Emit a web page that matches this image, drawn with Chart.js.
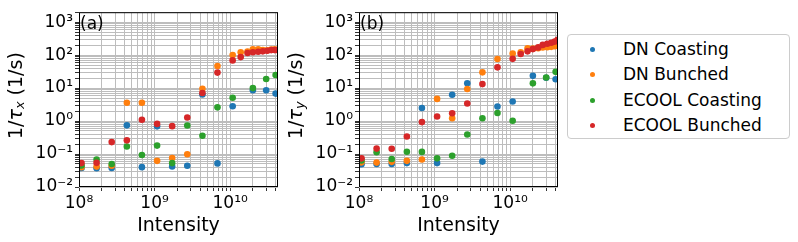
<!DOCTYPE html>
<html>
<head>
<meta charset="utf-8">
<script src="https://cdn.jsdelivr.net/npm/chart.js@4.4.1/dist/chart.umd.min.js"></script>
<style>
    html, body { margin: 0; padding: 0; background: #fff; }
    body { width: 798px; height: 242px; position: relative; overflow: hidden; font-family: "DejaVu Sans", sans-serif; }
    canvas { position: absolute; top: 0; }
    #legend { position: absolute; left: 567px; top: 34px; width: 221px; height: 103px; border: 1px solid #cccccc; border-radius: 4px; background: #fff; }
    .item { position: absolute; left: 0; width: 221px; height: 20px; line-height: 20px; font-size: 17px; color: #000; white-space: nowrap; }
    .item .dot { position: absolute; left: 22px; top: 8px; width: 5px; height: 5px; border-radius: 50%; }
    .item .txt { position: absolute; left: 55px; top: 0; }
</style>
</head>
<body>
<canvas id="chartX" width="285" height="242" style="left:0"></canvas>
<canvas id="chartY" width="285" height="242" style="left:280px"></canvas>
<div id="legend"></div>
<script>
// intensities
const intensityCoasting = [1.08e8, 1.71e8, 2.71e8, 4.3e8, 6.8e8, 1.08e9, 1.71e9, 2.71e9, 4.3e9, 6.8e9, 1.08e10, 2.0e10, 3.0e10, 4.0e10];
const intensityBunched = [1.08e8, 1.71e8, 2.71e8, 4.3e8, 6.8e8, 1.08e9, 1.71e9, 2.71e9, 4.3e9, 6.8e9, 1.08e10,
    1.38e10, 1.7e10, 2.0e10, 2.35e10, 2.7e10, 3.1e10, 3.5e10, 3.9e10, 4.25e10];

// (a) horizontal rates 1/tau_x
const dnCoastingX = [0.0375, 0.037, 0.038, 0.74, 0.040, 0.69, 0.042, 0.044, 6.4, 0.052, 2.8, 8.6, 8.6, 6.8];
const dnBunchedX = [0.040, 0.0415, 0.044, 3.6, 3.6, 0.062, 0.076, 0.098, 9.5, 46.5, 101,
    122, 129, 149, 149, 142, 141, 147, 149, 142];
const ecoolCoastingX = [0.045, 0.068, 0.050, 0.17, 0.093, 0.18, 0.053, 0.73, 0.36, 2.6, 5.1, 10, 18.9, 24.8];
const ecoolBunchedX = [0.053, 0.054, 0.23, 0.26, 1.09, 0.82, 0.70, 1.28, 7.1, 29.5, 69,
    87, 116, 122, 127, 130, 136, 142, 142, 142];

// (b) vertical rates 1/tau_y
const dnCoastingY = [0.049, 0.050, 0.050, 0.053, 2.5, 0.053, 6.3, 14, 0.059, 2.77, 3.9, 23.5, 20.5, 18.5];
const dnBunchedY = [0.056, 0.055, 0.058, 0.062, 0.068, 4.7, 1.22, 9.4, 30, 76, 112,
    122, 161, 158, 162, 171, 174, 178, 186, 193];
const ecoolCoastingY = [0.064, 0.114, 0.071, 0.117, 0.116, 0.074, 0.089, 0.39, 1.21, 1.75, 1.02, 13.9, 21, 31];
const ecoolBunchedY = [0.074, 0.146, 0.144, 0.34, 0.93, 1.38, 1.72, 3.4, 13.2, 42.5, 77,
    108, 130, 152, 171, 204, 221, 237, 257, 290];

const seriesNames = ["DN Coasting", "DN Bunched", "ECOOL Coasting", "ECOOL Bunched"];
const seriesColors = ["#1f77b4", "#ff7f0e", "#2ca02c", "#d62728"];

const X_MIN = 1e8, X_MAX = 4.3e10;
const Y_MIN = 1e-2, Y_MAX = 2000;
const FONT = '"DejaVu Sans", sans-serif';

const SUP = { "0": "⁰", "1": "¹", "2": "²", "3": "³", "4": "⁴", "5": "⁵", "6": "⁶", "7": "⁷", "8": "⁸", "9": "⁹", "-": "⁻" };

function isPow10(v) {
    const e = Math.log10(v);
    return Math.abs(e - Math.round(e)) < 1e-9;
}

function powLabel(v) {
    if (!isPow10(v)) return "";
    const e = String(Math.round(Math.log10(v)));
    return "10" + e.split("").map(c => SUP[c]).join("");
}

function logTicks(min, max) {
    const out = [];
    const lo = Math.floor(Math.log10(min)), hi = Math.ceil(Math.log10(max));
    for (let e = lo; e <= hi; e++) {
        for (let m = 1; m <= 9; m++) {
            const v = m * Math.pow(10, e);
            if (v >= min * 0.999999 && v <= max * 1.000001) out.push(v);
        }
    }
    return out;
}

function points(xs, ys) {
    return ys.map((y, i) => ({ x: xs[i], y }));
}

const panelDecor = {
    id: "panelDecor",
    afterDraw(chart, args, opts) {
        const ctx = chart.ctx;
        const a = chart.chartArea;
        ctx.save();
        ctx.strokeStyle = "#000";
        ctx.lineWidth = 1;
        ctx.strokeRect(a.left + 0.5, a.top + 0.5, a.right - a.left - 1, a.bottom - a.top - 1);

        ctx.fillStyle = "#000";
        ctx.textBaseline = "alphabetic";
        ctx.textAlign = "left";
        ctx.font = "17px " + FONT;
        ctx.fillText(opts.tag, a.left + 1, a.top + 17);

        // x title
        ctx.textAlign = "center";
        ctx.font = "19px " + FONT;
        ctx.fillText("Intensity", (a.left + a.right) / 2, 231);

        // y title with subscript
        const parts = [
            { t: "1/", f: "19px " + FONT, dy: 0 },
            { t: "τ", f: "italic 19px " + FONT, dy: 0 },
            { t: opts.sub, f: "italic 13px " + FONT, dy: 4 },
            { t: " (1/s)", f: "19px " + FONT, dy: 0 }
        ];
        let total = 0;
        parts.forEach(p => { ctx.font = p.f; p.w = ctx.measureText(p.t).width; total += p.w; });
        ctx.translate(opts.titleX, (a.top + a.bottom) / 2 - 4);
        ctx.rotate(-Math.PI / 2);
        ctx.textAlign = "left";
        ctx.textBaseline = "middle";
        let x = -total / 2;
        parts.forEach(p => {
            ctx.font = p.f;
            ctx.fillText(p.t, x, p.dy);
            x += p.w;
        });
        ctx.restore();
    }
};

function makeScale(min, max, fitKey, fitValue) {
    return {
        type: "logarithmic",
        min,
        max,
        afterBuildTicks: s => {
            s.ticks = logTicks(min, max).map(v => ({ value: v, major: isPow10(v) }));
        },
        afterFit: s => { s[fitKey] = fitValue; },
        ticks: {
            autoSkip: false,
            maxRotation: 0,
            minRotation: 0,
            padding: 2,
            color: "#000",
            font: { family: FONT, size: 17 },
            callback: v => powLabel(v)
        },
        grid: {
            color: "#bdbdbd",
            lineWidth: 1,
            tickLength: 4,
            tickColor: "#333",
            tickWidth: 1
        },
        border: { display: false },
        title: { display: false }
    };
}

function renderPanel(canvas, ys, tag, sub) {
    const datasets = ys.map((vals, i) => ({
        label: seriesNames[i],
        data: points(i % 2 === 0 ? intensityCoasting : intensityBunched, vals),
        backgroundColor: seriesColors[i],
        borderColor: seriesColors[i],
        borderWidth: 0,
        pointRadius: 3.3,
        pointHoverRadius: 3.3,
        showLine: false,
        clip: 0,
        order: 4 - i
    }));

    return new Chart(canvas.getContext("2d"), {
        type: "scatter",
        data: { datasets },
        options: {
            responsive: false,
            animation: false,
            layout: { padding: { left: 0, right: 7, top: 7, bottom: 0 } },
            plugins: {
                legend: { display: false },
                tooltip: { enabled: false },
                panelDecor: { tag, sub, titleX: 17 }
            },
            scales: {
                x: makeScale(X_MIN, X_MAX, "height", 55),
                y: makeScale(Y_MIN, Y_MAX, "width", 79)
            }
        },
        plugins: [panelDecor]
    });
}

renderPanel(document.getElementById("chartX"), [dnCoastingX, dnBunchedX, ecoolCoastingX, ecoolBunchedX], "(a)", "x");
renderPanel(document.getElementById("chartY"), [dnCoastingY, dnBunchedY, ecoolCoastingY, ecoolBunchedY], "(b)", "y");

const legend = document.getElementById("legend");
const legendCenters = [14, 39, 65, 90];
seriesNames.forEach((name, i) => {
    const item = document.createElement("div");
    item.className = "item";
    item.style.top = (legendCenters[i] - 10) + "px";
    item.innerHTML = '<span class="dot" style="background:' + seriesColors[i] + '"></span><span class="txt">' + name + "</span>";
    legend.appendChild(item);
});
</script>
</body>
</html>
